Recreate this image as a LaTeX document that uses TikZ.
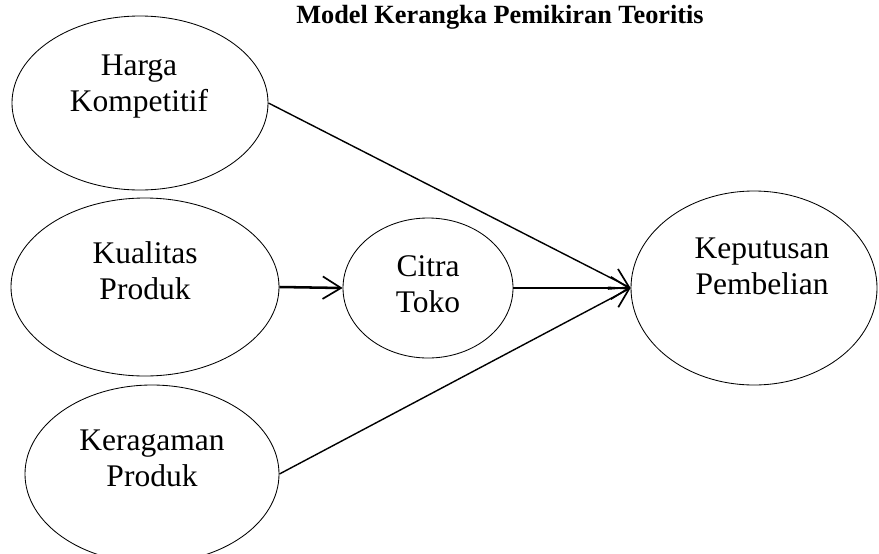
\documentclass[tikz,border=0pt]{standalone}
\usepackage{fontspec}
\setmainfont{Liberation Serif}
\usetikzlibrary{calc}
\usetikzlibrary{math}
\usetikzlibrary{shapes.geometric}
\usetikzlibrary{arrows.meta}
\newcommand{\pxu}{0.025cm}

\begin{document}
\begin{tikzpicture}[x=0.025cm, y=-0.025cm]
    \tikzmath {
        \textUp = 16;
    }
    
    \tikzstyle{var}=[draw, shape=ellipse, line width=0.6pt, inner sep=0pt]
    \tikzstyle{txt}=[align=center, inner sep=0pt, font=\fontsize{22.4}{25.6}\selectfont]
    \tikzstyle{link}=[line width=1pt, -{Straight Barb[length=13pt, width=16pt, line width=1.2pt]}]
    \tikzstyle{mainlink}=[link, line width=1.8pt]
    
    \useasboundingbox (0,0) rectangle (879,553);
    
    \node[font=\fontsize{18.7}{22}\selectfont\bfseries] (title) at (500,17) {Model Kerangka Pemikiran Teoritis};
    
    % variabel bebas
    \coordinate (harga_c) at (140,103);
    \node[var, minimum width=256*\pxu, minimum height=174*\pxu] (harga) at (harga_c) {};
    \node[txt] (harga_text) at ($(harga_c) + (-1,-\textUp)$) {Harga\\Kompetitif};
    
    \coordinate (kualitas_c) at (145,287);
    \node[var, minimum width=268*\pxu, minimum height=178*\pxu] (kualitas) at (kualitas_c) {};
    \node[txt] (kualitas_text) at ($(kualitas_c) + (0,-\textUp)$) {Kualitas\\Produk};
    
    \coordinate (keragaman_c) at (152,474);
    \node[var, minimum width=254*\pxu, minimum height=178*\pxu] (keragaman) at (keragaman_c) {};
    \node[txt] (keragaman_text) at ($(keragaman_c) + (0,-\textUp)$) {Keragaman\\Produk};
    
    % variabel intervening
    \coordinate (citra_c) at (428,288);
    \node[var, minimum width=170*\pxu, minimum height=140*\pxu] (citra) at (citra_c) {};
    \node[txt] (citra_text) at ($(citra_c) + (0,-4)$) {Citra\\Toko};
    
    % variabel terikat
    \coordinate (keputusan_c) at (754,288);
    \node[var, minimum width=246*\pxu, minimum height=194*\pxu] (keputusan) at (keputusan_c) {};
    \node[txt] (keputusan_text) at ($(keputusan_c) + (8,-22)$) {Keputusan\\Pembelian};
    
    \draw[link] (harga.east) -- (keputusan.west);
    \draw[mainlink] (kualitas.east) -- (citra.west);
    \draw[mainlink] (citra.east) -- (keputusan.west);
    \draw[link] (keragaman.east) -- (keputusan.west);
\end{tikzpicture}
\end{document}
